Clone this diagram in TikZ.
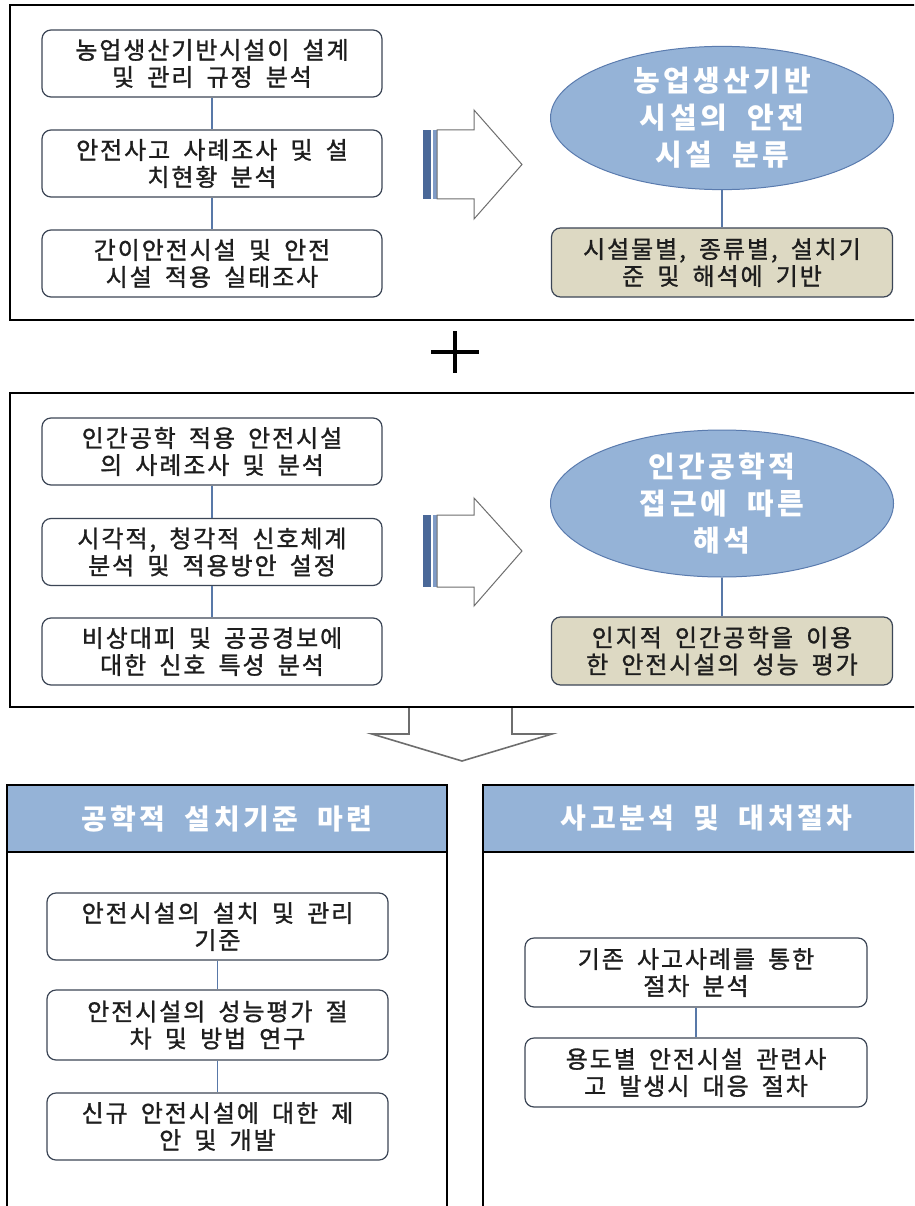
\documentclass[tikz,border=0pt]{standalone}
\usepackage{fontspec}
\newfontfamily\kr{Noto Sans CJK KR}[LetterSpace=12, WordSpace=2]
\newfontfamily\krb{Noto Sans CJK KR}[LetterSpace=8, WordSpace=1.8, FakeBold=1.2]
\usetikzlibrary{shapes.geometric}
\definecolor{ellfill}{HTML}{95B3D7}
\definecolor{ellline}{HTML}{5A7BAE}
\definecolor{hdrfill}{HTML}{95B3D7}
\definecolor{tanfill}{HTML}{DDD9C3}
\definecolor{boxline}{HTML}{3C4656}
\definecolor{linkc}{HTML}{5878A8}
\definecolor{textc}{HTML}{1E1E1E}
\definecolor{stripeA}{HTML}{4A6898}
\definecolor{stripeB}{HTML}{7F9BC6}
\definecolor{arrline}{HTML}{6E6E6E}
\tikzset{
  panel/.style={draw=black, line width=2pt},
  stepbox/.style={draw=boxline, rounded corners=9pt, line width=1.2pt, fill=white,
    minimum width=340pt, minimum height=67pt, align=center, inner sep=0pt,
    text=textc, font=\krb\fontsize{24}{27}\selectfont},
  tanbox/.style={stepbox, fill=tanfill, minimum width=341pt},
  ell/.style={ellipse, draw=ellline, fill=ellfill, line width=1pt, inner sep=0pt,
    minimum width=343pt, align=center, text=white,
    font=\kr\bfseries\fontsize{29}{37}\selectfont},
  header/.style={draw=black, line width=2pt, fill=hdrfill, minimum height=67pt,
    inner sep=0pt, text=white, font=\kr\bfseries\fontsize{28}{32}\selectfont},
  link/.style={draw=linkc, line width=1.1pt},
  barrow/.style={draw=arrline, line width=1pt, fill=white, line join=miter},
}
\begin{document}
\begin{tikzpicture}[x=1pt, y=-1pt]
\useasboundingbox (0,0) rectangle (914,1206);
\clip (0,0) rectangle (914,1206);
\fill[white] (0,0) rectangle (914,1206);

% ---------- panel 1 ----------
\draw[panel] (10,5) rectangle (930,320);
\node[stepbox] (a1) at (212,63.5) {농업생산기반시설이 설계\\및 관리 규정 분석};
\node[stepbox] (a2) at (212,163.5) {안전사고 사례조사 및 설\\치현황 분석};
\node[stepbox] (a3) at (212,263.5) {간이안전시설 및 안전\\시설 적용 실태조사};
\draw[link] (a1) -- (a2);
\draw[link] (a2) -- (a3);

\fill[stripeA] (423,130) rectangle (431,199);
\fill[stripeB] (433,130) rectangle (436.5,199);
\draw[barrow] (437,130) -- (474,130) -- (474,110) -- (522,164.5) -- (474,219) -- (474,199) -- (437,199) -- cycle;

\node[ell, minimum height=140pt] (e1) at (722,118) {농업생산기반\\시설의 안전\\시설 분류};
\node[tanbox, minimum height=69pt] (t1) at (722,262.5) {시설물별, 종류별, 설치기\\준 및 해석에 기반};
\draw[link] (e1) -- (t1);

% ---------- plus ----------
\draw[line width=4pt] (431,352) -- (479,352);
\draw[line width=4pt] (455,331) -- (455,373);

% ---------- panel 2 ----------
\draw[panel] (10,393) rectangle (930,707);
\node[stepbox] (b1) at (212,451.5) {인간공학 적용 안전시설\\의 사례조사 및 분석};
\node[stepbox] (b2) at (212,552) {시각적, 청각적 신호체계\\분석 및 적용방안 설정};
\node[stepbox] (b3) at (212,651.5) {비상대피 및 공공경보에\\대한 신호 특성 분석};
\draw[link] (b1) -- (b2);
\draw[link] (b2) -- (b3);

\fill[stripeA] (423,515) rectangle (431,587);
\fill[stripeB] (433,515) rectangle (436.5,587);
\draw[barrow] (437,515) -- (474,515) -- (474,498) -- (522,551) -- (474,606) -- (474,587) -- (437,587) -- cycle;

\node[ell, minimum height=147pt] (e2) at (722,503.5) {인간공학적\\접근에 따른\\해석};
\node[tanbox, minimum height=68pt] (t2) at (722,651) {인지적 인간공학을 이용\\한 안전시설의 성능 평가};
\draw[link] (e2) -- (t2);

% ---------- down arrow ----------
\draw[draw=arrline, line width=1.6pt, line join=miter]
  (409,708) -- (409,734) -- (372,734) -- (462,761) -- (552,734) -- (512,734) -- (512,708);

% ---------- bottom left panel ----------
\draw[panel] (7,1230) -- (7,785) -- (447,785) -- (447,1230);
\node[header, minimum width=440pt] (h1) at (227,818.5) {공학적 설치기준 마련};
\node[stepbox, minimum width=341pt] (c1) at (217.5,926.5) {안전시설의 설치 및 관리\\기준};
\node[stepbox, minimum width=341pt, minimum height=70pt] (c2) at (217.5,1025) {안전시설의 성능평가 절\\차 및 방법 연구};
\node[stepbox, minimum width=341pt] (c3) at (217.5,1126.5) {신규 안전시설에 대한 제\\안 및 개발};
\draw[link] (c1) -- (c2);
\draw[link] (c2) -- (c3);

% ---------- bottom right panel ----------
\draw[panel] (483,1230) -- (483,785) -- (930,785);
\node[header, minimum width=447pt] (h2) at (706.5,818.5) {사고분석 및 대처절차};
\node[stepbox, minimum width=342pt, minimum height=69pt] (f1) at (696,972.5) {기존 사고사례를 통한\\절차 분석};
\node[stepbox, minimum width=342pt, minimum height=69pt] (f2) at (696,1072.5) {용도별 안전시설 관련사\\고 발생시 대응 절차};
\draw[link] (f1) -- (f2);
\end{tikzpicture}
\end{document}
